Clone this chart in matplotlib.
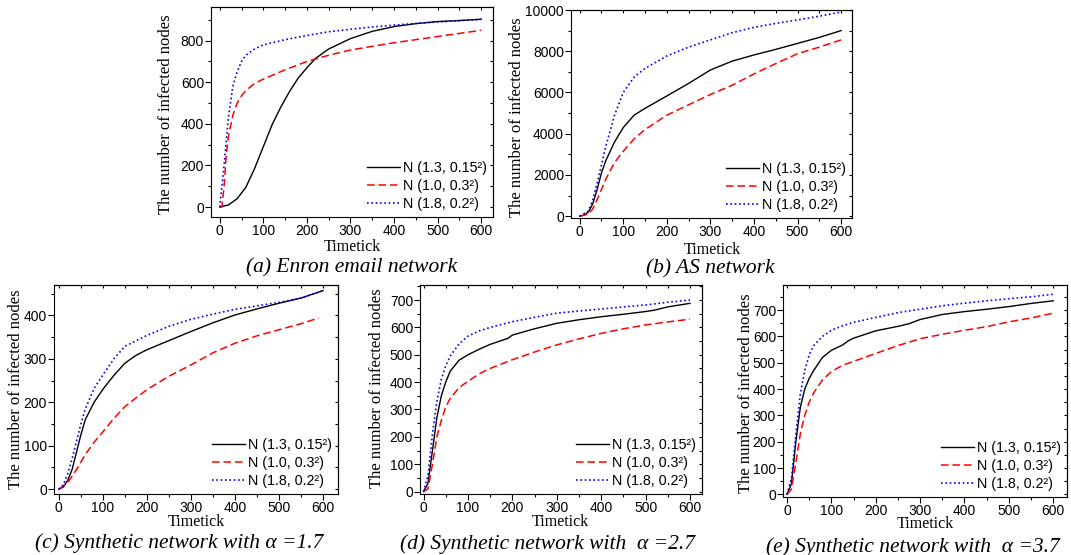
import matplotlib
matplotlib.use("Agg")
import matplotlib.pyplot as plt
from matplotlib.ticker import MultipleLocator

# values
labels = ["N (1.3, 0.15\u00b2)", "N (1.0, 0.3\u00b2)", "N (1.8, 0.2\u00b2)"]

# (a) Enron email network
a_black_x = [0, 20, 40, 60, 80, 100, 120, 140, 160, 180, 200, 220, 250, 300, 350, 400, 450, 500, 550, 600]
a_black_y = [0, 10, 40, 95, 185, 290, 395, 480, 555, 620, 670, 715, 760, 810, 845, 868, 882, 892, 897, 903]
a_red_x = [0, 5, 10, 15, 20, 30, 40, 50, 60, 80, 100, 150, 200, 250, 300, 350, 400, 450, 500, 550, 600]
a_red_y = [0, 0, 100, 250, 340, 440, 500, 535, 560, 595, 615, 660, 700, 730, 755, 773, 790, 805, 820, 835, 850]
a_blue_x = [0, 10, 20, 30, 40, 50, 60, 80, 100, 150, 200, 250, 300, 350, 400, 450, 500, 550, 600]
a_blue_y = [0, 200, 430, 580, 650, 700, 730, 760, 780, 805, 825, 843, 855, 866, 875, 883, 890, 896, 903]

# (b) AS network
b_black_x = [0, 10, 20, 30, 40, 50, 60, 80, 100, 125, 150, 200, 250, 300, 350, 400, 450, 500, 550, 600]
b_black_y = [0, 50, 200, 600, 1300, 2100, 2700, 3600, 4300, 4900, 5230, 5830, 6440, 7090, 7520, 7820, 8090, 8380, 8670, 9000]
b_red_x = [0, 20, 30, 40, 50, 60, 80, 100, 125, 150, 200, 250, 300, 350, 400, 450, 500, 550, 600]
b_red_y = [0, 100, 350, 800, 1300, 1800, 2600, 3150, 3750, 4200, 4900, 5400, 5900, 6350, 6900, 7400, 7880, 8200, 8550]
b_blue_x = [0, 20, 30, 40, 50, 60, 80, 100, 125, 150, 200, 250, 300, 350, 400, 450, 500, 550, 600]
b_blue_y = [0, 250, 800, 1600, 2500, 3400, 4900, 6000, 6750, 7170, 7770, 8200, 8550, 8900, 9160, 9350, 9520, 9700, 9900]

# (c) synthetic, alpha = 1.7
c_black_x = [0, 10, 20, 30, 40, 50, 60, 80, 100, 125, 150, 175, 200, 250, 300, 350, 400, 450, 500, 550, 600]
c_black_y = [0, 5, 20, 45, 85, 125, 160, 200, 230, 262, 290, 308, 321, 342, 363, 383, 401, 415, 428, 440, 457]
c_red_x = [0, 20, 40, 60, 80, 100, 125, 150, 175, 200, 250, 300, 350, 400, 450, 500, 550, 590]
c_red_y = [0, 15, 45, 80, 108, 132, 163, 190, 210, 229, 260, 286, 314, 336, 353, 367, 381, 394]
c_blue_x = [0, 10, 20, 30, 40, 50, 60, 80, 100, 125, 150, 200, 250, 300, 350, 400, 450, 500, 550, 600]
c_blue_y = [0, 10, 35, 70, 110, 150, 185, 232, 263, 300, 329, 354, 375, 391, 403, 414, 422, 430, 440, 457]

# (d) synthetic, alpha = 2.7
d_black_x = [0, 10, 20, 30, 40, 50, 60, 80, 100, 125, 150, 190, 200, 250, 300, 350, 400, 450, 500, 520, 550, 600]
d_black_y = [0, 30, 150, 270, 350, 400, 440, 480, 500, 520, 538, 560, 572, 595, 615, 628, 639, 648, 658, 663, 675, 688]
d_red_x = [0, 10, 20, 30, 40, 50, 60, 80, 100, 125, 150, 200, 250, 300, 350, 400, 450, 500, 550, 600]
d_red_y = [0, 10, 100, 200, 260, 310, 340, 380, 403, 430, 450, 482, 510, 536, 558, 578, 595, 609, 620, 630]
d_blue_x = [0, 10, 20, 30, 40, 50, 60, 80, 100, 125, 150, 200, 250, 300, 350, 400, 450, 500, 550, 600]
d_blue_y = [0, 60, 210, 330, 410, 460, 495, 540, 568, 587, 600, 621, 637, 652, 660, 667, 675, 682, 692, 700]

# (e) synthetic, alpha = 3.7
e_black_x = [0, 10, 20, 30, 40, 50, 60, 80, 100, 125, 140, 150, 200, 250, 275, 300, 350, 400, 450, 500, 550, 600]
e_black_y = [0, 40, 200, 330, 400, 440, 470, 520, 547, 567, 585, 593, 621, 638, 648, 664, 683, 694, 703, 713, 725, 735]
e_red_x = [0, 10, 20, 30, 40, 50, 60, 80, 100, 125, 150, 200, 250, 300, 350, 400, 450, 500, 550, 600]
e_red_y = [0, 20, 120, 230, 300, 350, 385, 435, 466, 490, 505, 535, 565, 591, 608, 623, 637, 655, 670, 688]
e_blue_x = [0, 10, 20, 30, 40, 50, 60, 80, 100, 125, 150, 200, 250, 300, 350, 400, 450, 500, 550, 600]
e_blue_y = [0, 60, 230, 380, 470, 530, 565, 600, 623, 640, 653, 672, 690, 703, 716, 726, 735, 743, 750, 760]

captions = ["(a) Enron email network", "(b) AS network",
            "(c) Synthetic network with \u03b1 =1.7",
            "(d) Synthetic network with  \u03b1 =2.7",
            "(e) Synthetic network with  \u03b1 =3.7"]

plt.rcParams['font.family'] = 'Liberation Sans'

W, H = 1071, 555
fig = plt.figure(figsize=(W / 100, H / 100), dpi=100)


def px_axes(l, r, t, b):
    return fig.add_axes([l / W, 1 - b / H, (r - l) / W, (b - t) / H])


panels = [
    # box (l, r, t, b), xlim, ylim, y major, y minor, data
    ((211, 493, 7, 217), (-20, 627), (-48, 962), 200, 100,
     [(a_black_x, a_black_y), (a_red_x, a_red_y), (a_blue_x, a_blue_y)]),
    ((571, 852, 10, 218), (-20, 625), (-90, 10000), 2000, 1000,
     [(b_black_x, b_black_y), (b_red_x, b_red_y), (b_blue_x, b_blue_y)]),
    ((54, 338, 285, 494), (-11, 634), (-11, 470), 100, 50,
     [(c_black_x, c_black_y), (c_red_x, c_red_y), (c_blue_x, c_blue_y)]),
    ((420, 702, 285, 494), (-8, 627), (-9, 755), 100, 50,
     [(d_black_x, d_black_y), (d_red_x, d_red_y), (d_blue_x, d_blue_y)]),
    ((783, 1067, 285, 497), (-9, 631), (-10, 795), 100, 50,
     [(e_black_x, e_black_y), (e_red_x, e_red_y), (e_blue_x, e_blue_y)]),
]

# text positions in pixels: ylabel (x, y), xlabel (x, y), caption (x, y)
text_pos = [
    ((166, 114), (352, 247), (352, 268)),
    ((517, 117), (712, 250), (710, 269)),
    ((16, 389), (196, 522), (179, 543)),
    ((377, 388), (560, 522), (547, 544)),
    ((746, 393), (925, 524), (913, 547)),
]

styles = [dict(color='black', lw=1.0, ls='-'),
          dict(color='red', lw=1.1, ls=(0, (5, 2.5))),
          dict(color='blue', lw=1.2, ls=(0, (1, 1.6)))]

for (box, xl, yl, ymaj, ymin, series), (ylp, xlp, cap), caption in zip(panels, text_pos, captions):
    ax = px_axes(*box)
    for (x, y), st, lab in zip(series, styles, labels):
        ax.plot(x, y, label=lab, **st)
    ax.set_xlim(*xl)
    ax.set_ylim(*yl)
    ax.xaxis.set_major_locator(MultipleLocator(100))
    ax.xaxis.set_minor_locator(MultipleLocator(50))
    ax.yaxis.set_major_locator(MultipleLocator(ymaj))
    ax.yaxis.set_minor_locator(MultipleLocator(ymin))
    ax.tick_params(which='both', direction='out', labelsize=10, width=0.8, pad=1)
    ax.tick_params(which='major', length=4)
    ax.tick_params(which='minor', length=2.5)
    sec_x = ax.secondary_xaxis('top')
    sec_x.xaxis.set_major_locator(MultipleLocator(50))
    sec_x.tick_params(direction='in', length=2.5, width=0.8, labeltop=False)
    sec_y = ax.secondary_yaxis('right')
    sec_y.yaxis.set_major_locator(MultipleLocator(ymin))
    sec_y.tick_params(direction='in', length=2.5, width=0.8, labelright=False)
    for s in ax.spines.values():
        s.set_linewidth(0.8)
    sec_x.spines['top'].set_linewidth(0.8)
    sec_y.spines['right'].set_linewidth(0.8)
    ax.legend(loc='lower right', frameon=False, fontsize=10.3, handlelength=2.3,
              handletextpad=0.2, labelspacing=0.28, borderaxespad=0.4,
              borderpad=0.05)
    fig.text(ylp[0] / W, 1 - ylp[1] / H, "The number of infected nodes",
             family='Liberation Serif', fontsize=12, rotation=90,
             ha='center', va='center')
    fig.text(xlp[0] / W, 1 - xlp[1] / H, "Timetick", family='Liberation Serif',
             fontsize=11.5, ha='center', va='center')
    fig.text(cap[0] / W, 1 - cap[1] / H, caption, family='Liberation Serif',
             style='italic', fontsize=15.5, ha='center', va='center')

fig.savefig("out.png", dpi=100)
